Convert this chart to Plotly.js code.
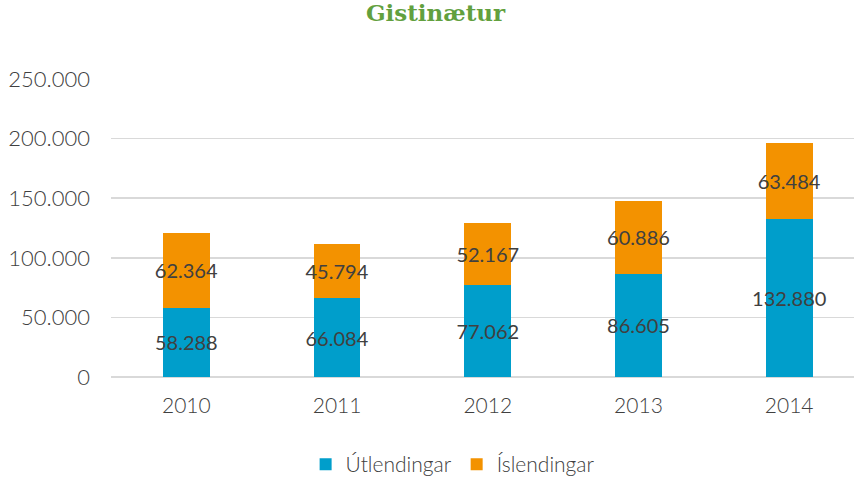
<!DOCTYPE html>
<html><head><meta charset="utf-8">
<script src="https://cdn.plot.ly/plotly-3.0.1.min.js"></script>
<style>html,body{margin:0;padding:0;background:#fff}#c{width:854px;height:479px}</style>
</head><body><div id="c"></div>
<script>
var years = ['2010', '2011', '2012', '2013', '2014'];
var utlendingar = [58288, 66084, 77062, 86605, 132880];
var islendingar = [62364, 45794, 52167, 60886, 63484];
var seriesNames = ['Útlendingar', 'Íslendingar'];
var tickVals = [0, 50000, 100000, 150000, 200000, 250000];

var common = {
  type: 'bar', x: years, textposition: 'inside', insidetextanchor: 'middle',
  constraintext: 'none', textangle: 0, texttemplate: '%{y:,}',
  textfont: {family: 'Lato, sans-serif', size: 20, color: '#404040', weight: 400},
  hoverinfo: 'none', cliponaxis: false
};
var t1 = Object.assign({}, common, {y: utlendingar, name: seriesNames[0], marker: {color: '#009ecb'}});
var t2 = Object.assign({}, common, {y: islendingar, name: seriesNames[1], marker: {color: '#f39200'}});

var layout = {
  width: 854, height: 479, barmode: 'stack', bargap: 0.69,
  separators: ',.',
  paper_bgcolor: '#fff', plot_bgcolor: '#fff',
  margin: {l: 111, r: 0, t: 79, b: 102},
  font: {family: 'Lato, sans-serif', color: '#404040', size: 20, weight: 300},
  title: {text: '<b>Gistinætur</b>', x: 0.51, xref: 'container', xanchor: 'center', y: 0.99, yref: 'container', yanchor: 'top',
          font: {family: 'DejaVu Serif, serif', size: 23, color: '#62a03e'}},
  xaxis: {type: 'category', range: [-0.5, 4.43], showgrid: false, zeroline: false,
          showline: false, ticks: '', ticklabelstandoff: 14,
          tickfont: {size: 21, color: '#404040', weight: 300}, automargin: false},
  yaxis: {range: [0, 250000], tickvals: tickVals, tickformat: ',', showgrid: true,
          gridcolor: '#d9d9d9', gridwidth: 1.5, zeroline: true, zerolinecolor: '#d9d9d9', zerolinewidth: 1.5,
          showline: false, ticks: '', ticklabelstandoff: 20,
          tickfont: {size: 22, color: '#404040', weight: 300}, automargin: false},
  legend: {orientation: 'h', x: 0.53, xref: 'container', xanchor: 'center', y: 0.03, yref: 'container', yanchor: 'middle',
           font: {size: 21, color: '#404040', weight: 300}, itemwidth: 30, traceorder: 'normal'},
  showlegend: true
};
Plotly.newPlot('c', [t1, t2], layout, {staticPlot: true});
</script></body></html>
